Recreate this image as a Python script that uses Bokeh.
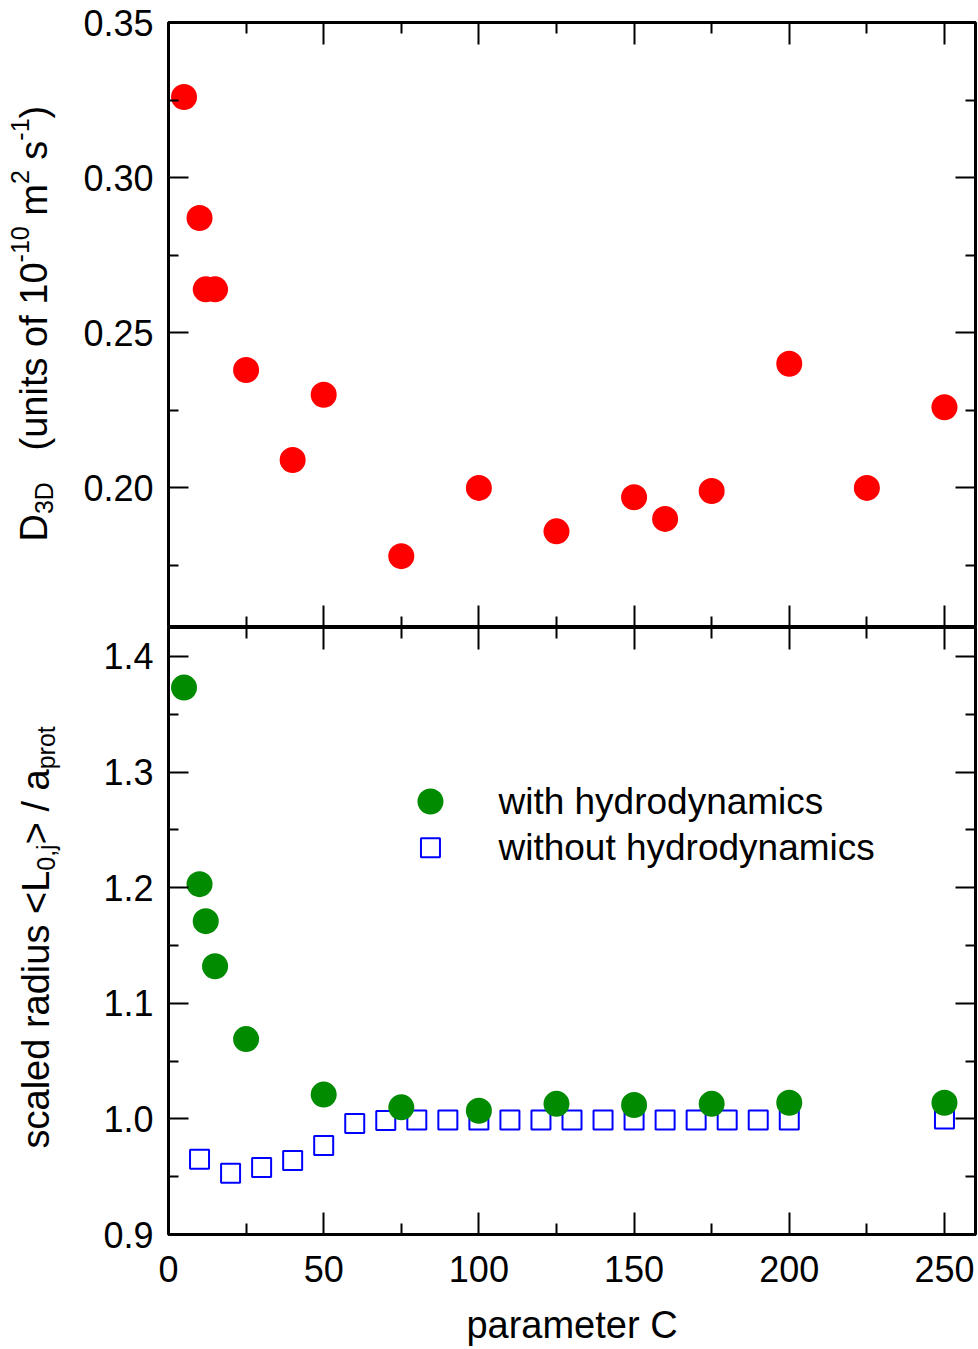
import math
from bokeh.plotting import figure
from bokeh.models import (Range1d, LinearAxis, FixedTicker, PrintfTickFormatter,
                          CustomJSTickFormatter, Label)
from bokeh.core.properties import value
from bokeh.layouts import column, row
from bokeh.embed import file_html
from bokeh.resources import INLINE

# ---------------- data ----------------
C_d3d = [5, 10, 12, 15, 25, 40, 50, 75, 100, 125, 150, 160, 175, 200, 225, 250]
D3D = [0.326, 0.287, 0.264, 0.264, 0.238, 0.209, 0.230, 0.178, 0.200, 0.186,
       0.197, 0.190, 0.199, 0.240, 0.200, 0.226]

C_hyd = [5, 10, 12, 15, 25, 50, 75, 100, 125, 150, 175, 200, 250]
R_hyd = [1.373, 1.203, 1.171, 1.132, 1.069, 1.021, 1.010, 1.007, 1.013, 1.012,
         1.013, 1.014, 1.014]

C_nohyd = [10, 20, 30, 40, 50, 60, 70, 80, 90, 100, 110, 120, 130, 140, 150,
           160, 170, 180, 190, 200, 250]
R_nohyd = [0.965, 0.953, 0.958, 0.964, 0.977, 0.996, 0.9985, 0.999, 0.999, 0.999,
           0.999, 0.999, 0.999, 0.999, 0.999, 0.999, 0.999, 0.999, 0.999, 0.999, 1.0]

x_ticks = [0, 50, 100, 150, 200, 250]
x_minor = [25, 75, 125, 175, 225]
top_ticks = [0.20, 0.25, 0.30, 0.35]
top_minor = [0.175, 0.225, 0.275, 0.325]
bot_ticks = [0.9, 1.0, 1.1, 1.2, 1.3, 1.4]
bot_minor = [0.95, 1.05, 1.15, 1.25, 1.35]
legend_labels = ["with hydrodynamics", "without hydrodynamics"]
x_title = "parameter C"
# y titles as (text, size, baseline shift) pieces: sub-/superscripts
top_title = [("D", 38, 0), ("3D", 25, 10), ("   (units of 10", 38, 0),
             ("-10", 25, -14), (" m", 38, 0), ("2", 25, -14), (" s", 38, 0),
             ("-1", 25, -14), (")", 38, 0)]
bot_title = [("scaled radius <L", 38, 0), ("0,j", 25, 10), ("> / a", 38, 0),
             ("prot", 25, 10)]

# ---------------- style / layout ----------------
FONT = "Liberation Sans"
RED = "#ff0000"
GREEN = "#008b00"
BLUE = "#0000ff"

TOTAL_H = 1349
LAB_W = 66                      # width of the strip holding the y titles
X0, X1 = 0, 260
Y1_0, Y1_1 = 0.155, 0.35
Y2_0, Y2_1 = 0.9, 1.425
LEFT, RIGHT = 168 - LAB_W, 3
WIDTH = 978 - LAB_W
TOP1_H, TOP1_MB = 627, 22
BOT_H, BOT_MB = TOTAL_H - 627, 115

# Arial / Liberation Sans advance widths (em)
W = {' ': .278, '(': .333, ')': .333, '-': .333, ',': .278, '/': .278, '<': .584,
     '>': .584, '0': .556, '1': .556, '2': .556, '3': .556, 'D': .722, 'L': .556,
     'a': .556, 'c': .5, 'd': .556, 'e': .556, 'f': .278, 'i': .222, 'j': .222,
     'l': .222, 'm': .833, 'n': .556, 'o': .556, 'p': .556, 'r': .333, 's': .5,
     't': .278, 'u': .556}


def tw(s, size):
    return sum(W.get(c, .556) for c in s) * size


def rich_vlabel(p, pieces, base_x, start_y):
    """Rotated (bottom-to-top) title built from pieces, in pixel coordinates
    of the label strip (y measured from the page bottom)."""
    y = start_y
    for txt, size, shift in pieces:
        lead = len(txt) - len(txt.lstrip(' '))
        y += lead * W[' '] * size
        core = txt.strip(' ')
        p.text(x=[base_x + shift], y=[y], text=[core], angle=math.pi / 2,
               text_font=value(FONT), text_font_size=value(f"{size}px"),
               text_baseline="alphabetic", text_align="left", text_color="black")
        y += tw(core, size)
        trail = len(txt) - len(txt.rstrip(' '))
        y += trail * W[' '] * size


def style_axis(ax, ticks, minor, fmt, tlen, labels):
    ax.ticker = FixedTicker(ticks=ticks, minor_ticks=minor)
    ax.axis_line_color = None
    ax.major_tick_in = tlen
    ax.major_tick_out = 0
    ax.minor_tick_in = tlen // 2
    ax.minor_tick_out = 0
    ax.major_tick_line_width = 2
    ax.minor_tick_line_width = 2
    ax.major_tick_line_color = "black"
    ax.minor_tick_line_color = "black"
    if labels:
        ax.formatter = PrintfTickFormatter(format=fmt)
        ax.major_label_text_font = FONT
        ax.major_label_text_font_size = "36px"
        ax.major_label_text_color = "black"
    else:
        ax.formatter = CustomJSTickFormatter(code="return ''")
        ax.major_label_text_font_size = "0px"
        ax.major_label_standoff = 0


def base_fig(height, y_range, x_range, mb_top, mb_bottom):
    p = figure(width=WIDTH, height=height, x_range=x_range, y_range=y_range,
               output_backend="svg", toolbar_location=None,
               x_axis_location=None, y_axis_location=None,
               min_border_left=LEFT, min_border_right=RIGHT,
               min_border_top=mb_top, min_border_bottom=mb_bottom)
    p.xgrid.visible = False
    p.ygrid.visible = False
    p.outline_line_color = "black"
    p.outline_line_width = 3
    p.background_fill_color = "white"
    p.border_fill_color = "white"
    return p


xr = Range1d(X0, X1)

# ---------------- top panel ----------------
p1 = base_fig(TOP1_H, Range1d(Y1_0, Y1_1), xr, TOP1_MB, 0)
for side, lab in (("left", True), ("right", False)):
    ax = LinearAxis()
    style_axis(ax, top_ticks, top_minor, "%.2f", 20, lab)
    if lab:
        ax.major_label_standoff = 15
    p1.add_layout(ax, side)
for side in ("above", "below"):
    ax = LinearAxis()
    style_axis(ax, x_ticks, x_minor, "%d", 22, False)
    p1.add_layout(ax, side)

p1.scatter(C_d3d, D3D, marker="circle", size=26, fill_color=RED, line_color=None)

# ---------------- bottom panel ----------------
p2 = base_fig(BOT_H, Range1d(Y2_0, Y2_1), xr, 0, BOT_MB)
for side, lab in (("left", True), ("right", False)):
    ax = LinearAxis()
    style_axis(ax, bot_ticks, bot_minor, "%.1f", 20, lab)
    if lab:
        ax.major_label_standoff = 15
    p2.add_layout(ax, side)
ax_top = LinearAxis()
style_axis(ax_top, x_ticks, x_minor, "%d", 22, False)
p2.add_layout(ax_top, "above")
ax_b = LinearAxis()
style_axis(ax_b, x_ticks, x_minor, "%d", 22, True)
ax_b.major_label_standoff = 21
ax_b.axis_label = x_title
ax_b.axis_label_text_font = FONT
ax_b.axis_label_text_font_size = "38px"
ax_b.axis_label_text_font_style = "normal"
ax_b.axis_label_text_color = "black"
ax_b.axis_label_standoff = 19
p2.add_layout(ax_b, "below")

p2.scatter(C_nohyd, R_nohyd, marker="square", size=19, fill_color=None,
           line_color=BLUE, line_width=2)
p2.scatter(C_hyd, R_hyd, marker="circle", size=26, fill_color=GREEN, line_color=None)

# legend (manual, as in the original)
LEG_X, LEG_TX = 84.4, 106.3
LEG_Y = [1.2745, 1.2346]
p2.scatter([LEG_X], [LEG_Y[0]], marker="circle", size=26, fill_color=GREEN, line_color=None)
p2.scatter([LEG_X], [LEG_Y[1]], marker="square", size=19, fill_color=None,
           line_color=BLUE, line_width=2)
for lab, ly in zip(legend_labels, LEG_Y):
    p2.add_layout(Label(x=LEG_TX, y=ly, text=lab, text_font=FONT, text_font_size="37px",
                        text_baseline="middle", text_align="left", text_color="black"))

# ---------------- strip with the rotated y titles ----------------
pl = figure(width=LAB_W, height=TOTAL_H, x_range=Range1d(0, LAB_W),
            y_range=Range1d(0, TOTAL_H), output_backend="svg", toolbar_location=None,
            x_axis_location=None, y_axis_location=None,
            min_border_left=0, min_border_right=0, min_border_top=0, min_border_bottom=0)
pl.xgrid.visible = False
pl.ygrid.visible = False
pl.outline_line_color = None
pl.background_fill_color = "white"
pl.border_fill_color = "white"

rich_vlabel(pl, top_title, 33, TOTAL_H - 541)
rich_vlabel(pl, bot_title, 35, TOTAL_H - 1148)

layout = row(pl, column(p1, p2, spacing=0), spacing=0)
open("out.html", "w").write(file_html(layout, INLINE))
